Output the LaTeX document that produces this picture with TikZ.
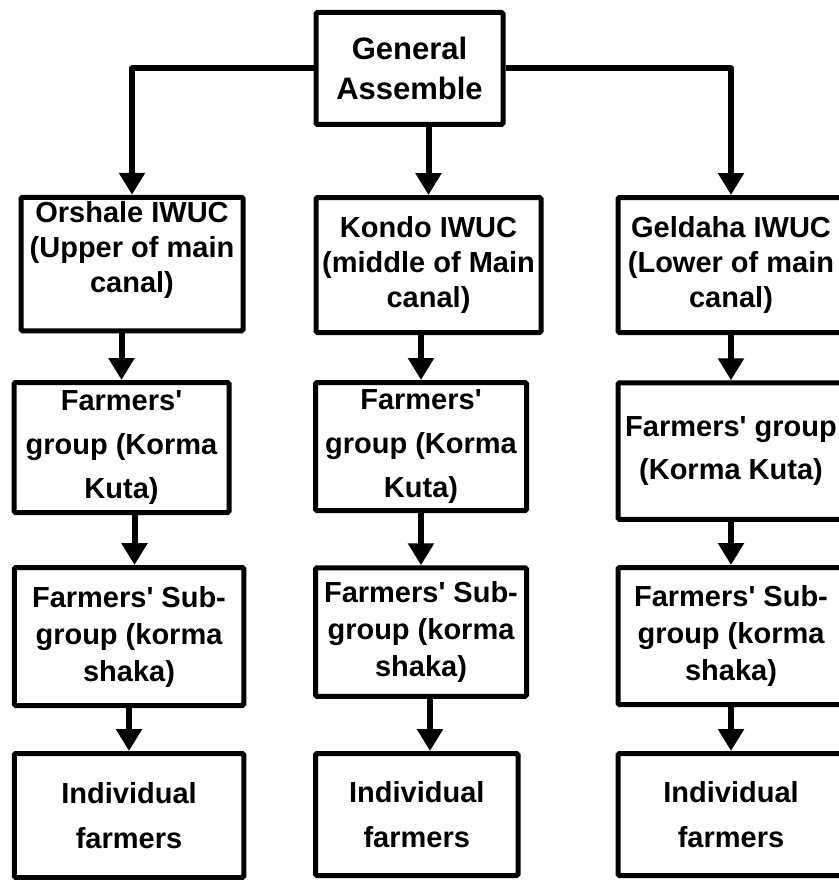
\documentclass[tikz,border=0pt]{standalone}
\usepackage{fontspec}
\setmainfont{Liberation Sans}
\usetikzlibrary{arrows.meta}

\begin{document}
\begin{tikzpicture}[x=1pt,y=-1pt,>={Triangle[length=22pt,width=25pt]},
  orgbox/.style={draw,line width=5pt,rounded corners=1.5pt,inner sep=0pt,align=center,font=\fontsize{29}{#1}\selectfont\bfseries},
  link/.style={->,line width=6pt,line join=round}]
\useasboundingbox (0,0) rectangle (838,880);
\node[orgbox=40,minimum width=187pt,minimum height=112pt,font=\fontsize{31}{40}\selectfont\bfseries] (ga) at (409.5,68.5) {General\\Assemble};
% water user committees
\node[orgbox=35,minimum width=222pt,minimum height=133.5pt] (orshale) at (132,264) {Orshale IWUC\\(Upper of main\\canal)\\\mbox{}};
\node[orgbox=35,minimum width=225pt,minimum height=135pt] (kondo) at (428.5,265) {Kondo IWUC\\(middle of Main\\canal)};
\node[orgbox=35,minimum width=226pt,minimum height=135pt] (geldaha) at (731,265) {Geldaha IWUC\\(Lower of main\\canal)};
% farmers' groups
\node[orgbox=44,minimum width=215pt,minimum height=130pt] (grpO) at (121.5,447.5) {Farmers\textquotesingle\\group (Korma\\Kuta)};
\node[orgbox=44,minimum width=211pt,minimum height=128pt] (grpK) at (421,446.5) {Farmers\textquotesingle\\group (Korma\\Kuta)};
\node[orgbox=43,minimum width=226pt,minimum height=136.5pt] (grpG) at (731,451) {Farmers\textquotesingle{} group\\(Korma Kuta)};
% sub-groups
\node[orgbox=37,minimum width=229.5pt,minimum height=138pt] (subO) at (129,636.5) {Farmers\textquotesingle{} Sub-\\group (korma\\shaka)};
\node[orgbox=37,minimum width=211pt,minimum height=128.5pt] (subK) at (421,632) {Farmers\textquotesingle{} Sub-\\group (korma\\shaka)};
\node[orgbox=37,minimum width=226pt,minimum height=137pt] (subG) at (731,636) {Farmers\textquotesingle{} Sub-\\group (korma\\shaka)};
% individual farmers
\node[orgbox=45,minimum width=229.5pt,minimum height=124pt] (indO) at (129,815.5) {Individual\\farmers};
\node[orgbox=45,minimum width=202.5pt,minimum height=122pt] (indK) at (416.75,814.5) {Individual\\farmers};
\node[orgbox=45,minimum width=226pt,minimum height=122pt] (indG) at (731,814.5) {Individual\\farmers};

\draw[link] (ga.west) -| (orshale.north);
\draw[link] (ga.east) -| (geldaha.north);
\draw[link] (kondo.north |- ga.south) -- (kondo.north);
\draw[link] (grpO.north |- orshale.south) -- (grpO.north);
\draw[link] ([xshift=5.5pt]subO.north |- grpO.south) -- ([xshift=5.5pt]subO.north);
\draw[link] (indO.north |- subO.south) -- (indO.north);
\draw[link] (grpK.north |- kondo.south) -- (grpK.north);
\draw[link] (subK.north |- grpK.south) -- (subK.north);
\draw[link] ([xshift=9pt]subK.south) -- ([xshift=9pt]subK.south |- indK.north);
\draw[link] (geldaha.south) -- (grpG.north);
\draw[link] (grpG.south) -- (subG.north);
\draw[link] (subG.south) -- (indG.north);
\end{tikzpicture}
\end{document}
